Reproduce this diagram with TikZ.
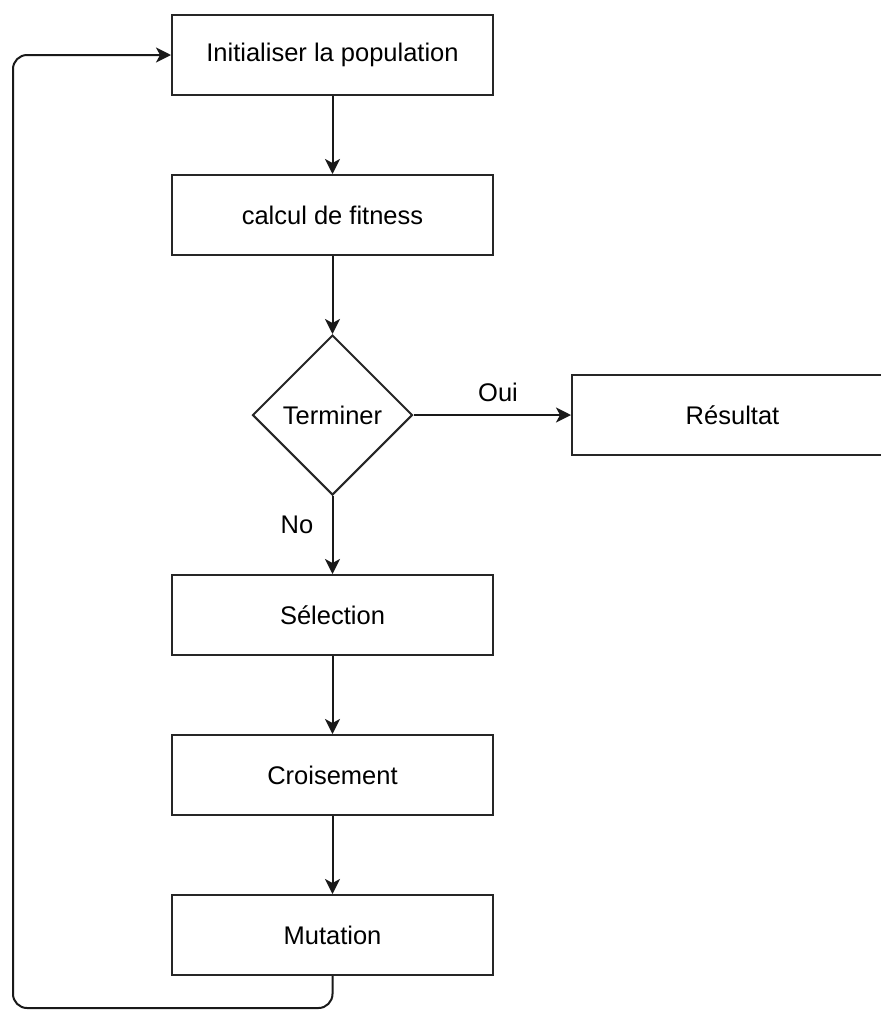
\documentclass[tikz,border=0pt]{standalone}
\usepackage{fontspec}
\setmainfont{Liberation Sans}
\usetikzlibrary{shapes.geometric,arrows.meta}
\begin{document}
\begin{tikzpicture}[x=1pt,y=-1pt,
  font=\fontsize{25.5}{30}\selectfont,
  procbox/.style={draw=black!85, line width=2pt, fill=white, minimum width=321pt, minimum height=80pt, inner sep=0pt},
  decision/.style={draw=black!85, line width=2pt, fill=white, diamond, minimum width=160pt, minimum height=160pt, inner sep=0pt},
  flow/.style={draw=black!90, line width=2pt, -{Stealth[length=15pt,width=15pt,inset=4pt]}},
  lbl/.style={inner sep=0pt}]
\useasboundingbox (0,0) rectangle (881,1010);
\begin{scope}
\clip (0,0) rectangle (881,1010);
\node[procbox] (init) at (332.5,55) {Initialiser la population};
\node[procbox] (fit)  at (332.5,215) {calcul de fitness};
\node[decision] (term) at (332.5,415) {Terminer};
\node[procbox] (res)  at (732.5,415) {Résultat};
\node[procbox] (sel)  at (332.5,615) {Sélection};
\node[procbox] (cro)  at (332.5,775) {Croisement};
\node[procbox] (mut)  at (332.5,935) {Mutation};
\end{scope}

\draw[flow] (init) -- (fit);
\draw[flow] (fit) -- (term);
\draw[flow] (term) -- (res);
\draw[flow] (term) -- (sel);
\draw[flow] (sel) -- (cro);
\draw[flow] (cro) -- (mut);

% feedback loop from the last step back to the start
\coordinate (lb) at (332.5,1008);
\coordinate (ll) at (13,1008);
\coordinate (lt) at (13,55);
\draw[flow, rounded corners=14pt] (mut.south) -- (lb) -- (ll) -- (lt) -- (init.west);

\node[lbl] (oui) at (498,392) {Oui};
\node[lbl] (no) at (297,525) {No};
\end{tikzpicture}
\end{document}
